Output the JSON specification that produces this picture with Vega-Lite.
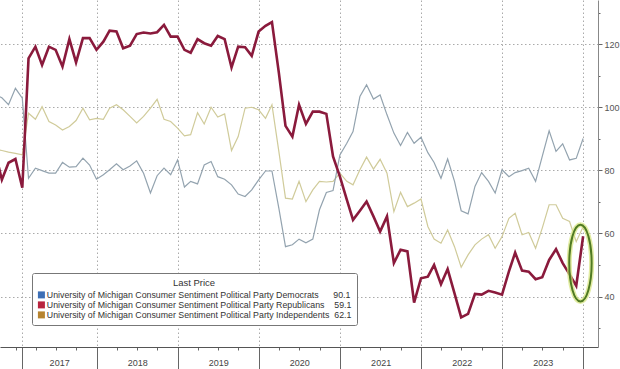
{
  "$schema": "https://vega.github.io/schema/vega-lite/v6.json",
  "width": 598,
  "height": 347,
  "autosize": "none",
  "padding": {"left": 0, "top": 0, "right": 22, "bottom": 22},
  "background": "white",
  "config": {
    "view": {"stroke": null},
    "font": "Liberation Sans, Arial, sans-serif"
  },
  "data": {
    "values": [
      {"date": "2016-09-30", "Democrats": 104, "Republicans": 86, "Independents": 86.7},
      {"date": "2016-10-31", "Democrats": 103, "Republicans": 77, "Independents": 86.3},
      {"date": "2016-11-30", "Democrats": 100.8, "Republicans": 82.4, "Independents": 85.8},
      {"date": "2016-12-31", "Democrats": 106, "Republicans": 83.6, "Independents": 85.4},
      {"date": "2017-01-31", "Democrats": 102.9, "Republicans": 74.5, "Independents": 84.9},
      {"date": "2017-02-28", "Democrats": 77.5, "Republicans": 115.5, "Independents": 98.1},
      {"date": "2017-03-31", "Democrats": 80.7, "Republicans": 119.2, "Independents": 96.2},
      {"date": "2017-04-30", "Democrats": 79.9, "Republicans": 113.4, "Independents": 100.2},
      {"date": "2017-05-31", "Democrats": 79.1, "Republicans": 119.2, "Independents": 95.5},
      {"date": "2017-06-30", "Democrats": 79.1, "Republicans": 118.2, "Independents": 94.4},
      {"date": "2017-07-31", "Democrats": 82.5, "Republicans": 112.9, "Independents": 92.8},
      {"date": "2017-08-31", "Democrats": 81, "Republicans": 121.6, "Independents": 93.9},
      {"date": "2017-09-30", "Democrats": 81.2, "Republicans": 114.2, "Independents": 95.8},
      {"date": "2017-10-31", "Democrats": 83.9, "Republicans": 121.9, "Independents": 99.7},
      {"date": "2017-11-30", "Democrats": 81.7, "Republicans": 121.9, "Independents": 96},
      {"date": "2017-12-31", "Democrats": 77.2, "Republicans": 118.2, "Independents": 96.5},
      {"date": "2018-01-31", "Democrats": 78.6, "Republicans": 120.8, "Independents": 96.2},
      {"date": "2018-02-28", "Democrats": 80.2, "Republicans": 124.3, "Independents": 99.7},
      {"date": "2018-03-31", "Democrats": 82.1, "Republicans": 124, "Independents": 100.8},
      {"date": "2018-04-30", "Democrats": 80.2, "Republicans": 118.7, "Independents": 99.2},
      {"date": "2018-05-31", "Democrats": 81.4, "Republicans": 119.5, "Independents": 97.1},
      {"date": "2018-06-30", "Democrats": 83, "Republicans": 123.2, "Independents": 95},
      {"date": "2018-07-31", "Democrats": 79.1, "Republicans": 123.7, "Independents": 97.1},
      {"date": "2018-08-31", "Democrats": 72.8, "Republicans": 123.4, "Independents": 99.7},
      {"date": "2018-09-30", "Democrats": 78.3, "Republicans": 123.8, "Independents": 102.5},
      {"date": "2018-10-31", "Democrats": 80.7, "Republicans": 126.1, "Independents": 96.2},
      {"date": "2018-11-30", "Democrats": 78.6, "Republicans": 122.4, "Independents": 95.5},
      {"date": "2018-12-31", "Democrats": 83.3, "Republicans": 122.4, "Independents": 93.4},
      {"date": "2019-01-31", "Democrats": 74.7, "Republicans": 118.2, "Independents": 90.9},
      {"date": "2019-02-28", "Democrats": 76.5, "Republicans": 117.3, "Independents": 91.3},
      {"date": "2019-03-31", "Democrats": 75.7, "Republicans": 121.6, "Independents": 98.3},
      {"date": "2019-04-30", "Democrats": 81.7, "Republicans": 120.3, "Independents": 94.7},
      {"date": "2019-05-31", "Democrats": 82.8, "Republicans": 119.5, "Independents": 100},
      {"date": "2019-06-30", "Democrats": 78, "Republicans": 122.6, "Independents": 96.9},
      {"date": "2019-07-31", "Democrats": 77.2, "Republicans": 121.6, "Independents": 97.9},
      {"date": "2019-08-31", "Democrats": 75.4, "Republicans": 112.6, "Independents": 86.3},
      {"date": "2019-09-30", "Democrats": 72.5, "Republicans": 119.2, "Independents": 90.7},
      {"date": "2019-10-31", "Democrats": 71.7, "Republicans": 119, "Independents": 99.7},
      {"date": "2019-11-30", "Democrats": 73.8, "Republicans": 116.3, "Independents": 100},
      {"date": "2019-12-31", "Democrats": 77, "Republicans": 124, "Independents": 99.2},
      {"date": "2020-01-31", "Democrats": 79.8, "Republicans": 125.8, "Independents": 96.5},
      {"date": "2020-02-29", "Democrats": 79.8, "Republicans": 127, "Independents": 100.8},
      {"date": "2020-03-31", "Democrats": 68, "Republicans": 111, "Independents": 86},
      {"date": "2020-04-30", "Democrats": 55.8, "Republicans": 94.1, "Independents": 71.2},
      {"date": "2020-05-31", "Democrats": 56.4, "Republicans": 90.7, "Independents": 70.9},
      {"date": "2020-06-30", "Democrats": 58.2, "Republicans": 100.8, "Independents": 76.5},
      {"date": "2020-07-31", "Democrats": 57, "Republicans": 94.7, "Independents": 70.1},
      {"date": "2020-08-31", "Democrats": 58.2, "Republicans": 98.6, "Independents": 73.8},
      {"date": "2020-09-30", "Democrats": 67.5, "Republicans": 98.6, "Independents": 76.5},
      {"date": "2020-10-31", "Democrats": 73, "Republicans": 97.9, "Independents": 76.3},
      {"date": "2020-11-30", "Democrats": 73.6, "Republicans": 84.4, "Independents": 76.5},
      {"date": "2020-12-31", "Democrats": 84.9, "Republicans": 78, "Independents": 79.1},
      {"date": "2021-01-31", "Democrats": 88.6, "Republicans": 70.7, "Independents": 76.5},
      {"date": "2021-02-28", "Democrats": 92.3, "Republicans": 64.3, "Independents": 75.4},
      {"date": "2021-03-31", "Democrats": 103.4, "Republicans": 67.2, "Independents": 80.2},
      {"date": "2021-04-30", "Democrats": 107.1, "Republicans": 70.1, "Independents": 84.2},
      {"date": "2021-05-31", "Democrats": 102.6, "Republicans": 65.4, "Independents": 80.4},
      {"date": "2021-06-30", "Democrats": 103.9, "Republicans": 60.6, "Independents": 83.5},
      {"date": "2021-07-31", "Democrats": 97.6, "Republicans": 65.4, "Independents": 79.1},
      {"date": "2021-08-31", "Democrats": 91.8, "Republicans": 50.6, "Independents": 66.9},
      {"date": "2021-09-30", "Democrats": 87.9, "Republicans": 54.8, "Independents": 73},
      {"date": "2021-10-31", "Democrats": 92, "Republicans": 54.3, "Independents": 68.5},
      {"date": "2021-11-30", "Democrats": 88.6, "Republicans": 38.1, "Independents": 69.6},
      {"date": "2021-12-31", "Democrats": 90.5, "Republicans": 45.8, "Independents": 70.9},
      {"date": "2022-01-31", "Democrats": 85.6, "Republicans": 46.3, "Independents": 62.2},
      {"date": "2022-02-28", "Democrats": 82.5, "Republicans": 50, "Independents": 58.2},
      {"date": "2022-03-31", "Democrats": 77.5, "Republicans": 43.9, "Independents": 56.9},
      {"date": "2022-04-30", "Democrats": 83.6, "Republicans": 48.7, "Independents": 61.1},
      {"date": "2022-05-31", "Democrats": 76.5, "Republicans": 41, "Independents": 55.8},
      {"date": "2022-06-30", "Democrats": 67.2, "Republicans": 33.4, "Independents": 49.3},
      {"date": "2022-07-31", "Democrats": 66.2, "Republicans": 34.5, "Independents": 53.2},
      {"date": "2022-08-31", "Democrats": 74.9, "Republicans": 40.8, "Independents": 56.4},
      {"date": "2022-09-30", "Democrats": 79.3, "Republicans": 40.6, "Independents": 58.2},
      {"date": "2022-10-31", "Democrats": 76.5, "Republicans": 41.8, "Independents": 59.6},
      {"date": "2022-11-30", "Democrats": 72.8, "Republicans": 41.3, "Independents": 55.3},
      {"date": "2022-12-31", "Democrats": 80.2, "Republicans": 40.6, "Independents": 59},
      {"date": "2023-01-31", "Democrats": 78, "Republicans": 48, "Independents": 64.8},
      {"date": "2023-02-28", "Democrats": 79.3, "Republicans": 53.9, "Independents": 66.4},
      {"date": "2023-03-31", "Democrats": 79.9, "Republicans": 48.2, "Independents": 59.6},
      {"date": "2023-04-30", "Democrats": 80.7, "Republicans": 47.9, "Independents": 60.3},
      {"date": "2023-05-31", "Democrats": 76.5, "Republicans": 45.5, "Independents": 55.3},
      {"date": "2023-06-30", "Democrats": 84.4, "Republicans": 46.1, "Independents": 61.7},
      {"date": "2023-07-31", "Democrats": 92.5, "Republicans": 51.6, "Independents": 69.1},
      {"date": "2023-08-31", "Democrats": 86, "Republicans": 55, "Independents": 69.1},
      {"date": "2023-09-30", "Democrats": 88.4, "Republicans": 50.6, "Independents": 64.8},
      {"date": "2023-10-31", "Democrats": 83.3, "Republicans": 47, "Independents": 63.8},
      {"date": "2023-11-30", "Democrats": 83.8, "Republicans": 43.4, "Independents": 57.4},
      {"date": "2023-12-31", "Democrats": 90.1, "Republicans": 59.1, "Independents": 62.1}
    ]
  },
  "encoding": {
    "x": {
      "field": "date",
      "type": "temporal",
      "title": null,
      "scale": {
        "type": "utc",
        "domain": [
          {"year": 2016, "month": 10, "date": 22, "hours": 14, "utc": true},
          {"year": 2024, "month": 3, "date": 7, "utc": true}
        ]
      },
      "axis": {
        "orient": "bottom",
        "values": [
          {"year": 2017, "month": 1, "date": 1, "utc": true},
          {"year": 2017, "month": 1, "date": 28, "utc": true},
          {"year": 2017, "month": 4, "date": 1, "utc": true},
          {"year": 2017, "month": 7, "date": 1, "utc": true},
          {"year": 2017, "month": 10, "date": 1, "utc": true},
          {"year": 2018, "month": 1, "date": 1, "utc": true},
          {"year": 2018, "month": 4, "date": 1, "utc": true},
          {"year": 2018, "month": 7, "date": 1, "utc": true},
          {"year": 2018, "month": 10, "date": 1, "utc": true},
          {"year": 2019, "month": 1, "date": 1, "utc": true},
          {"year": 2019, "month": 4, "date": 1, "utc": true},
          {"year": 2019, "month": 7, "date": 1, "utc": true},
          {"year": 2019, "month": 10, "date": 1, "utc": true},
          {"year": 2020, "month": 1, "date": 1, "utc": true},
          {"year": 2020, "month": 4, "date": 1, "utc": true},
          {"year": 2020, "month": 7, "date": 1, "utc": true},
          {"year": 2020, "month": 10, "date": 1, "utc": true},
          {"year": 2021, "month": 1, "date": 1, "utc": true},
          {"year": 2021, "month": 4, "date": 1, "utc": true},
          {"year": 2021, "month": 7, "date": 1, "utc": true},
          {"year": 2021, "month": 10, "date": 1, "utc": true},
          {"year": 2022, "month": 1, "date": 1, "utc": true},
          {"year": 2022, "month": 4, "date": 1, "utc": true},
          {"year": 2022, "month": 7, "date": 1, "utc": true},
          {"year": 2022, "month": 10, "date": 1, "utc": true},
          {"year": 2023, "month": 1, "date": 1, "utc": true},
          {"year": 2023, "month": 4, "date": 1, "utc": true},
          {"year": 2023, "month": 7, "date": 1, "utc": true},
          {"year": 2023, "month": 10, "date": 1, "utc": true},
          {"year": 2024, "month": 1, "date": 1, "utc": true}
        ],
        "labelExpr": "(utcmonth(datum.value) == 0 && (utcdate(datum.value) == 28 || (utcyear(datum.value) > 2017 && utcyear(datum.value) < 2024))) ? utcFormat(datum.value, '%Y') : ''",
        "labelOverlap": false,
        "labelBound": false,
        "labelFlush": false,
        "labelFontSize": 9,
        "labelColor": "#444444",
        "labelBaseline": "top",
        "labelAlign": "center",
        "labelOffset": {"condition": {"test": "utcyear(datum.value) == 2017", "value": 37.5}, "value": 40.5},
        "labelPadding": {"condition": {"test": "utcmonth(datum.value) == 0 && (utcyear(datum.value) > 2017 || utcdate(datum.value) == 28)", "value": -11}, "value": 0},
        "tickSize": {"condition": {"test": "utcmonth(datum.value) == 0 && (utcyear(datum.value) > 2017 || utcdate(datum.value) == 28)", "value": 22}, "value": 3},
        "tickColor": "#666666",
        "tickWidth": 1,
        "domainColor": "#555555",
        "domainWidth": 1,
        "grid": true,
        "gridColor": "#aaaaaa",
        "gridDash": [1.5, 2.5],
        "gridWidth": 1,
        "gridOpacity": {"condition": {"test": "utcmonth(datum.value) == 0 && (utcyear(datum.value) > 2017 || utcdate(datum.value) == 28)", "value": 1}, "value": 0}
      }
    },
    "y": {
      "field": "value",
      "type": "quantitative",
      "title": null,
      "scale": {"domain": [24, 134], "nice": false, "zero": false},
      "axis": {
        "orient": "right",
        "values": [30, 40, 50, 60, 70, 80, 90, 100, 110, 120, 130],
        "labelExpr": "(datum.value == 40 || datum.value == 60 || datum.value == 80 || datum.value == 100 || datum.value == 120) ? datum.label : ''",
        "labelFontSize": 9,
        "labelColor": "#555555",
        "labelPadding": 2,
        "labelBaseline": "middle",
        "tickSize": {"condition": {"test": "datum.value == 40 || datum.value == 60 || datum.value == 80 || datum.value == 100 || datum.value == 120", "value": 4}, "value": 2},
        "tickColor": "#666666",
        "domainColor": "#888888",
        "grid": true,
        "gridColor": "#aaaaaa",
        "gridDash": [1.5, 2.5],
        "gridWidth": 1,
        "gridOpacity": {"condition": {"test": "datum.value == 40 || datum.value == 60 || datum.value == 80 || datum.value == 100 || datum.value == 120", "value": 1}, "value": 0}
      }
    }
  },
  "layer": [
    {
      "transform": [
        {"fold": ["Democrats", "Republicans", "Independents"], "as": ["series", "value"]},
        {"filter": "datum.series == 'Independents'"}
      ],
      "mark": {"type": "line", "clip": true, "color": "#d0cb9a", "strokeWidth": 1.2}
    },
    {
      "transform": [
        {"fold": ["Democrats", "Republicans", "Independents"], "as": ["series", "value"]},
        {"filter": "datum.series == 'Democrats'"}
      ],
      "mark": {"type": "line", "clip": true, "color": "#93a3af", "strokeWidth": 1.2}
    },
    {
      "transform": [
        {"fold": ["Democrats", "Republicans", "Independents"], "as": ["series", "value"]},
        {"filter": "datum.series == 'Republicans'"}
      ],
      "mark": {"type": "line", "clip": true, "color": "#8a1a3c", "strokeWidth": 2.6}
    },
    {
      "transform": [
        {"filter": "year(datum.date) == 2023 && month(datum.date) == 11"},
        {"fold": ["Democrats", "Republicans", "Independents"], "as": ["series", "value"]}
      ],
      "mark": {"type": "square", "opacity": 0, "size": 1},
      "encoding": {
        "fill": {
          "field": "series",
          "type": "nominal",
          "scale": {"domain": ["Democrats", "Republicans", "Independents"], "range": ["#3d6fb6", "#b8243e", "#b7842f"]},
          "legend": {
            "title": "Last Price",
            "orient": "none",
            "legendX": 32,
            "legendY": 273,
            "direction": "vertical",
            "symbolType": "square",
            "symbolSize": 49,
            "symbolStrokeWidth": 0,
            "symbolOpacity": 1,
            "labelFontSize": 8.8,
            "labelColor": "#333333",
            "labelOffset": 1,
            "labelLimit": 500,
            "titleFontSize": 9.5,
            "titleFontWeight": "normal",
            "titleColor": "#333333",
            "titleAnchor": "middle",
            "titlePadding": 3,
            "padding": 5,
            "rowPadding": 0,
            "fillColor": "white",
            "strokeColor": "#777777",
            "cornerRadius": 2,
            "labelExpr": "datum.label == 'Democrats' ? 'University of Michigan Consumer Sentiment Political Party Democrats\u00a0\u00a0\u00a0\u00a0\u00a0\u00a090.1' : datum.label == 'Republicans' ? 'University of Michigan Consumer Sentiment Political Party Republicans\u00a0\u00a0\u00a0\u00a059.1' : 'University of Michigan Consumer Sentiment Political Party Independents\u00a0\u00a062.1'"
          }
        }
      }
    },
    {
      "data": {"values": [{"date": "2023-12-19", "value": 50.6}]},
      "mark": {"type": "point", "shape": "M -0.292 0 A 0.292 1 0 1 0 0.292 0 A 0.292 1 0 1 0 -0.292 0 Z", "size": 5883, "filled": false, "stroke": "#d6e57c", "strokeWidth": 5, "opacity": 0.7}
    },
    {
      "data": {"values": [{"date": "2023-12-19", "value": 50.6}]},
      "mark": {"type": "point", "shape": "M -0.292 0 A 0.292 1 0 1 0 0.292 0 A 0.292 1 0 1 0 -0.292 0 Z", "size": 5883, "filled": false, "stroke": "#4f7a22", "strokeWidth": 2, "opacity": 1}
    }
  ]
}
